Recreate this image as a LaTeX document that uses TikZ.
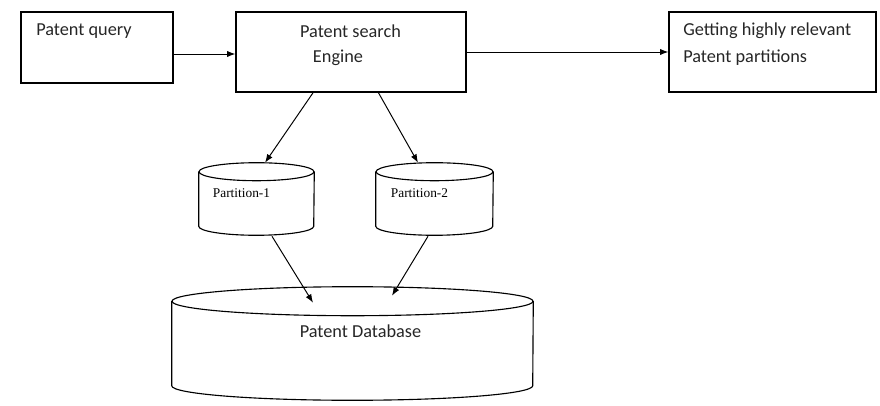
\documentclass[tikz,border=0pt]{standalone}
\usepackage{fontspec}
\setmainfont{Carlito}
\newfontfamily\partfont{Liberation Serif}
\usetikzlibrary{calc,arrows.meta}

\tikzset{
	box/.style={draw,line width=.8pt,rectangle,inner sep=0pt},
	txt/.style={font=\fontsize{13}{19}\selectfont,inner sep=0pt,text=black!85},
	ptxt/.style={font=\partfont\fontsize{9.5}{11}\selectfont,inner sep=0pt},
	store/.style={rectangle,inner sep=0pt},
	rim/.style={line width=.8pt},
	link/.style={-{Latex[length=6pt,width=4.5pt]},line width=.7pt}
}

\begin{document}
\begin{tikzpicture}[x=0.025cm,y=-0.025cm]
	\useasboundingbox (0,0) rectangle (880,406);

	% boxes
	\node[box,minimum width=152*0.025cm,minimum height=71*0.025cm] (query) at (97,47.5) {};
	\node[box,minimum width=230*0.025cm,minimum height=80*0.025cm] (engine) at (351,52) {};
	\node[box,minimum width=207*0.025cm,minimum height=80*0.025cm] (result) at (772.5,52) {};

	\node[txt,anchor=west] (qtext) at (36,31) {Patent query};
	\node[txt] (etext1) at (350.5,31) {Patent search};
	\node[txt] (etext2) at (338,58) {Engine};
	\node[txt,anchor=west] (rtext1) at (683,31) {Getting highly relevant};
	\node[txt,anchor=west] (rtext2) at (683,58) {Patent partitions};

	% cylinders
	\node[store,minimum width=115*0.025cm,minimum height=72*0.025cm] (p1) at (256.5,199) {};
	\node[store,minimum width=117*0.025cm,minimum height=72*0.025cm] (p2) at (434.5,199) {};
	\node[store,minimum width=361*0.025cm,minimum height=113*0.025cm] (db) at (352.5,343.5) {};

	\draw[rim] ($(p1.north)+(0,9)$) ellipse [x radius=57.5,y radius=9];
	\draw[rim] ($(p1.north west)+(0,9)$) -- ($(p1.south west)+(0,-9)$) arc[start angle=180,end angle=0,x radius=57.5,y radius=9] -- ($(p1.north east)+(0,9)$);
	\draw[rim] ($(p2.north)+(0,9)$) ellipse [x radius=58.5,y radius=9];
	\draw[rim] ($(p2.north west)+(0,9)$) -- ($(p2.south west)+(0,-9)$) arc[start angle=180,end angle=0,x radius=58.5,y radius=9] -- ($(p2.north east)+(0,9)$);
	\draw[rim] ($(db.north)+(0,14.5)$) ellipse [x radius=180.5,y radius=14.5];
	\draw[rim] ($(db.north west)+(0,14.5)$) -- ($(db.south west)+(0,-14.5)$) arc[start angle=180,end angle=0,x radius=180.5,y radius=14.5] -- ($(db.north east)+(0,14.5)$);

	\node[ptxt] (p1text) at (241.5,193) {Partition-1};
	\node[ptxt] (p2text) at (419.5,193) {Partition-2};
	\node[txt] (dbtext) at (360.5,331) {Patent Database};

	% arrows
	\draw[link] ($(query.east)+(0,6.5)$) -- ($(query.east -| engine.west)+(0,6.5)$);
	\draw[link] (engine.east) -- (result.west);
	\draw[link] (engine.-133.5) -- ($(p1.north)+(8.5,0)$);
	\draw[link] (engine.-56) -- ($(p2.north)+(-16.5,0)$);
	\draw[link] ($(p1.south)+(15.5,1)$) -- ($(db.north)+(-39.5,16)$);
	\draw[link] ($(p2.south)+(-6.5,1)$) -- ($(db.north)+(39.5,9)$);
\end{tikzpicture}
\end{document}
